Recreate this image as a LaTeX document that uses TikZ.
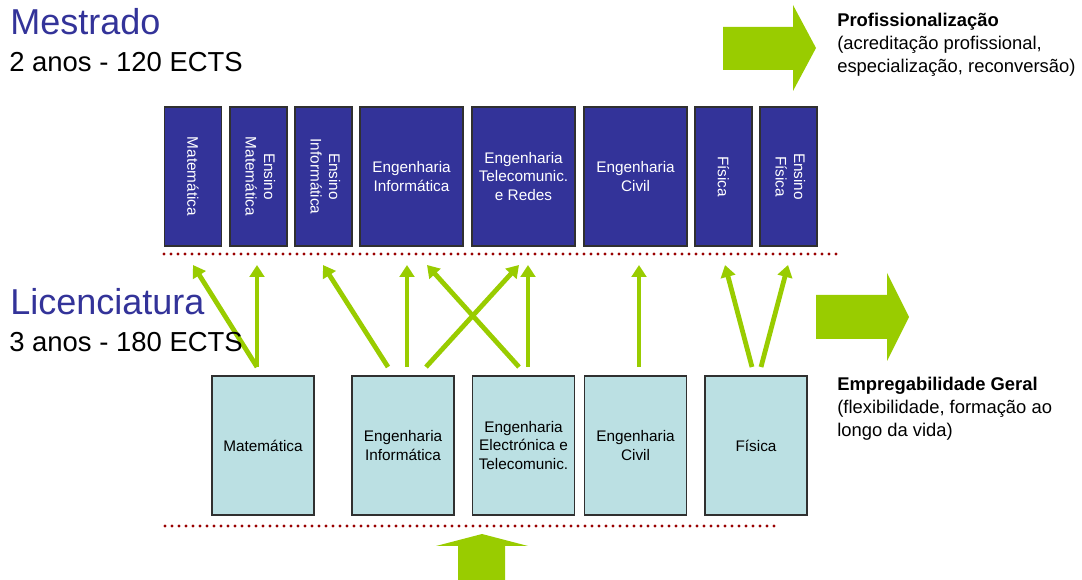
\documentclass[tikz,border=0pt]{standalone}
\usepackage{fontspec}
\setmainfont{Liberation Sans}
\usetikzlibrary{arrows.meta,calc}
\definecolor{boxblue}{HTML}{333399}
\definecolor{boxcyan}{HTML}{BBE0E3}
\definecolor{agreen}{HTML}{99CC00}
\definecolor{dotred}{HTML}{990000}
\definecolor{edgegray}{HTML}{303030}
\begin{document}
\begin{tikzpicture}[x=0.75pt,y=-0.75pt,
  boxtext/.style={font=\fontsize{11.5}{13.9}\selectfont, align=center, inner sep=0pt, outer sep=0pt},
  mbox/.style={boxtext, draw=edgegray, line width=0.9pt, fill=boxblue, text=white, minimum height=104.25pt},
  mnarrow/.style={mbox, minimum width=42.75pt},
  mwide/.style={mbox, minimum width=77.25pt},
  lbox/.style={boxtext, draw=edgegray, line width=0.9pt, fill=boxcyan, text=black, minimum height=104.25pt, minimum width=76.5pt},
  garrow/.style={draw=agreen, line width=3.6pt, -{Triangle[length=9pt,width=11pt]}},
  dotline/.style={draw=dotred, line width=2.3pt, line cap=round, dash pattern=on 0pt off 5.25pt},
  bigarrow/.style={fill=agreen},
  title/.style={anchor=base west, inner sep=0pt, text=boxblue, font=\fontsize{27}{32}\selectfont},
  subtitle/.style={anchor=base west, inner sep=0pt, font=\fontsize{20.6}{24}\selectfont},
  sidetext/.style={anchor=base west, inner sep=0pt, font=\fontsize{13.8}{16.9}\selectfont}
]
\useasboundingbox (0,0) rectangle (1082,580);

% Mestrado boxes
\node[mnarrow] (t1) at (193,176.5) {\rotatebox{-90}{Matemática}};
\node[mnarrow] (t2) at (258.5,176.5) {\rotatebox{-90}{\begin{tabular}{@{}c@{}}Ensino\\Matemática\end{tabular}}};
\node[mnarrow] (t3) at (323.5,176.5) {\rotatebox{-90}{\begin{tabular}{@{}c@{}}Ensino\\Informática\end{tabular}}};
\node[mwide] (t4) at (411.5,176.5) {Engenharia\\Informática};
\node[mwide] (t5) at (523.5,176.5) {Engenharia\\Telecomunic.\\e Redes};
\node[mwide] (t6) at (635.5,176.5) {Engenharia\\Civil};
\node[mnarrow] (t7) at (723.5,176.5) {\rotatebox{-90}{Física}};
\node[mnarrow] (t8) at (788.5,176.5) {\rotatebox{-90}{\begin{tabular}{@{}c@{}}Ensino\\Física\end{tabular}}};

% Licenciatura boxes
\node[lbox] (b1) at (263,445.5) {Matemática};
\node[lbox] (b2) at (403,445.5) {Engenharia\\Informática};
\node[lbox] (b3) at (523.5,445.5) {Engenharia\\Electrónica e\\Telecomunic.};
\node[lbox] (b4) at (635.5,445.5) {Engenharia\\Civil};
\node[lbox] (b5) at (756,445.5) {Física};

% dotted separators
\draw[dotline] (164,254) -- (838,254);
\draw[dotline] (165,526) -- (780,526);

% green connectors
\draw[garrow] ($(b1.north)+(-6,-9)$) -- ($(t1.south)+(0,19)$);
\draw[garrow] ($(b1.north)+(-6,-9)$) -- ($(t2.south)+(-1.5,19)$);
\draw[garrow] ($(b2.north)+(-15,-9)$) -- ($(t3.south)+(-0.5,19)$);
\draw[garrow] ($(b2.north)+(4,-9)$) -- ($(t4.south)+(-4.5,19)$);
\draw[garrow] ($(b2.north)+(23,-9)$) -- ($(t5.south)+(-4.5,19)$);
\draw[garrow] ($(b3.north)+(-4.5,-9)$) -- ($(t4.south)+(15.5,19)$);
\draw[garrow] ($(b3.north)+(4.5,-9)$) -- ($(t5.south)+(4.5,19)$);
\draw[garrow] ($(b4.north)+(3.5,-9)$) -- ($(t6.south)+(3.5,19)$);
\draw[garrow] ($(b5.north)+(-4,-9)$) -- ($(t7.south)+(1.5,19)$);
\draw[garrow] ($(b5.north)+(5,-9)$) -- ($(t8.south)+(-0.5,19)$);

% big block arrows
\fill[bigarrow] (723,27) -- (793,27) -- (793,5) -- (816,48) -- (793,91) -- (793,70) -- (723,70) -- cycle;
\fill[bigarrow] (816,295) -- (887,295) -- (887,273) -- (909,317) -- (887,361) -- (887,339) -- (816,339) -- cycle;
\fill[bigarrow] (458,580) -- (458,546) -- (436,546) -- (482,534) -- (528,546) -- (505,546) -- (505,580) -- cycle;

% titles
\node[title] (mest) at (10,35) {Mestrado};
\node[subtitle] (mects) at (9,72) {2 anos - 120 ECTS};
\node[title] (lic) at (10,315) {Licenciatura};
\node[subtitle] (lects) at (9,352) {3 anos - 180 ECTS};

% side texts
\node[sidetext] (prof) at (837,27) {\begin{tabular}[t]{@{}l@{}}\textbf{Profissionalização}\\(acreditação profissional,\\especialização, reconversão)\end{tabular}};
\node[sidetext] (empr) at (837,391) {\begin{tabular}[t]{@{}l@{}}\textbf{Empregabilidade Geral}\\(flexibilidade, formação ao\\longo da vida)\end{tabular}};
\end{tikzpicture}
\end{document}
